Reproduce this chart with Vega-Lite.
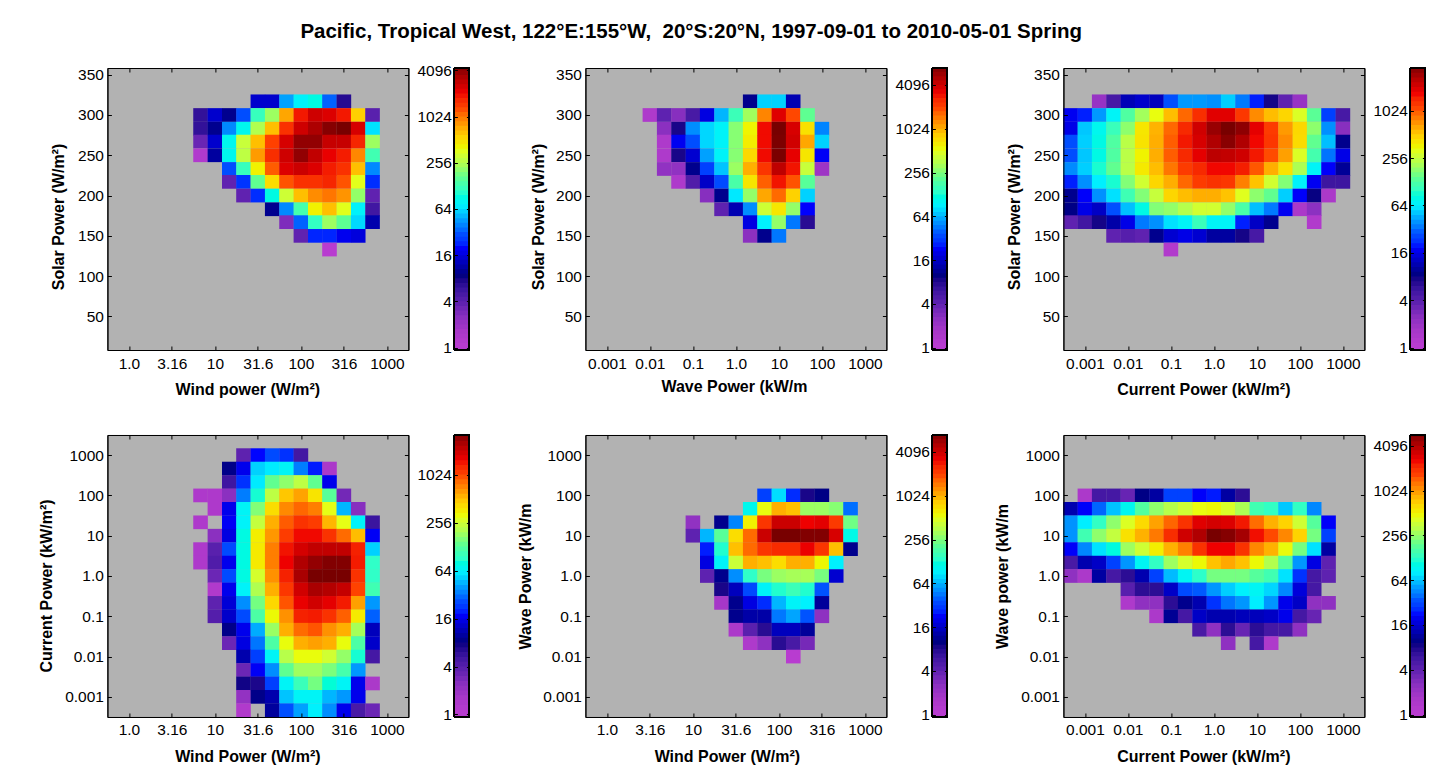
{
"$schema":"https://vega.github.io/schema/vega-lite/v6.json",
"background":"white",
"padding":{"left":37.4,"top":22,"right":5,"bottom":5},
"title":{"text":"Pacific, Tropical West, 122°E:155°W, \u00a020°S:20°N, 1997-09-01 to 2010-05-01 Spring","fontSize":20.5,"fontWeight":"bold","font":"Liberation Sans","anchor":"middle","dx":-40.7,"offset":20.5},
"columns":6,"bounds":"flush","align":"each","spacing":{"row":85,"column":46},
"resolve":{"scale":{"color":"independent"}},
"config":{"font":"Liberation Sans","range":{"heatmap":["#b83cd0","#a838c8","#8a30c0","#5f22b0","#3a159f","#000080","#0000c0","#0000ff","#0050ff","#00a0ff","#00f0ff","#30ffc8","#60ff90","#b0ff50","#e8ff10","#ffd000","#ff8c00","#ff4000","#f00000","#b80000","#780000"]},"axis":{"grid":false,"labelFontSize":15.5,"titleFontSize":16,"titleFontWeight":"bold","labelColor":"black","titleColor":"black","tickColor":"black","domainColor":"black","labelFont":"Liberation Sans","titleFont":"Liberation Sans"}},
"datasets":{
"levels":[{"lo":0.9,"hi":1.32},{"lo":1.149,"hi":1.516},{"lo":1.32,"hi":1.741},{"lo":1.516,"hi":2},{"lo":1.741,"hi":2.297},{"lo":2,"hi":2.639},{"lo":2.297,"hi":3.031},{"lo":2.639,"hi":3.482},{"lo":3.031,"hi":4},{"lo":3.482,"hi":4.595},{"lo":4,"hi":5.278},{"lo":4.595,"hi":6.063},{"lo":5.278,"hi":6.964},{"lo":6.063,"hi":8},{"lo":6.964,"hi":9.19},{"lo":8,"hi":10.56},{"lo":9.19,"hi":12.13},{"lo":10.56,"hi":13.93},{"lo":12.13,"hi":16},{"lo":13.93,"hi":18.38},{"lo":16,"hi":21.11},{"lo":18.38,"hi":24.25},{"lo":21.11,"hi":27.86},{"lo":24.25,"hi":32},{"lo":27.86,"hi":36.76},{"lo":32,"hi":42.22},{"lo":36.76,"hi":48.5},{"lo":42.22,"hi":55.72},{"lo":48.5,"hi":64},{"lo":55.72,"hi":73.5},{"lo":64,"hi":84.4},{"lo":73.5,"hi":97},{"lo":84.4,"hi":111.4},{"lo":97,"hi":128},{"lo":111.4,"hi":147},{"lo":128,"hi":168.9},{"lo":147,"hi":194},{"lo":168.9,"hi":222.9},{"lo":194,"hi":256},{"lo":222.9,"hi":294},{"lo":256,"hi":337.8},{"lo":294,"hi":388},{"lo":337.8,"hi":445.7},{"lo":388,"hi":512},{"lo":445.7,"hi":588},{"lo":512,"hi":675.6},{"lo":588,"hi":776},{"lo":675.6,"hi":891.4},{"lo":776,"hi":1024},{"lo":891.4,"hi":1176},{"lo":1024,"hi":1351},{"lo":1176,"hi":1552},{"lo":1351,"hi":1783},{"lo":1552,"hi":2048},{"lo":1783,"hi":2353},{"lo":2048,"hi":2702},{"lo":2353,"hi":3104},{"lo":2702,"hi":3566},{"lo":3104,"hi":4096},{"lo":3566,"hi":4705},{"lo":4096,"hi":5405},{"lo":4705,"hi":6208},{"lo":5405,"hi":7132},{"lo":6208,"hi":8192},{"lo":7132,"hi":8192}],
"solar_wind":[
{"x":31.6,"y":317,"n":13.5},{"x":46.4,"y":317,"n":13.5},{"x":68.1,"y":317,"n":44},{"x":100,"y":317,"n":70},{"x":147,"y":317,"n":85},{"x":215,"y":317,"n":31},{"x":316,"y":317,"n":6.5},
{"x":6.81,"y":300,"n":5.8},{"x":10,"y":300,"n":13.5},{"x":14.7,"y":300,"n":9},{"x":21.5,"y":300,"n":28},{"x":31.6,"y":300,"n":110},{"x":46.4,"y":300,"n":210},{"x":68.1,"y":300,"n":700},{"x":100,"y":300,"n":1745},{"x":147,"y":300,"n":2440},{"x":215,"y":300,"n":2200},{"x":316,"y":300,"n":1745},{"x":464,"y":300,"n":540},{"x":681,"y":300,"n":3.8},
{"x":6.81,"y":283,"n":5.8},{"x":10,"y":283,"n":9},{"x":14.7,"y":283,"n":38},{"x":21.5,"y":283,"n":78},{"x":31.6,"y":283,"n":234},{"x":46.4,"y":283,"n":600},{"x":68.1,"y":283,"n":1450},{"x":100,"y":283,"n":2440},{"x":147,"y":283,"n":3100},{"x":215,"y":283,"n":4000},{"x":316,"y":283,"n":4390},{"x":464,"y":283,"n":2300},{"x":681,"y":283,"n":61},
{"x":6.81,"y":267,"n":3.2},{"x":10,"y":267,"n":13.5},{"x":14.7,"y":267,"n":78},{"x":21.5,"y":267,"n":280},{"x":31.6,"y":267,"n":600},{"x":46.4,"y":267,"n":1250},{"x":68.1,"y":267,"n":2300},{"x":100,"y":267,"n":3700},{"x":147,"y":267,"n":3700},{"x":215,"y":267,"n":2600},{"x":316,"y":267,"n":2600},{"x":464,"y":267,"n":1600},{"x":681,"y":267,"n":210},
{"x":6.81,"y":250,"n":1.2},{"x":10,"y":250,"n":10},{"x":14.7,"y":250,"n":78},{"x":21.5,"y":250,"n":260},{"x":31.6,"y":250,"n":750},{"x":46.4,"y":250,"n":1500},{"x":68.1,"y":250,"n":2440},{"x":100,"y":250,"n":3700},{"x":147,"y":250,"n":2700},{"x":215,"y":250,"n":2000},{"x":316,"y":250,"n":1700},{"x":464,"y":250,"n":850},{"x":681,"y":250,"n":120},
{"x":14.7,"y":233,"n":28},{"x":21.5,"y":233,"n":110},{"x":31.6,"y":233,"n":400},{"x":46.4,"y":233,"n":1100},{"x":68.1,"y":233,"n":2200},{"x":100,"y":233,"n":2500},{"x":147,"y":233,"n":2200},{"x":215,"y":233,"n":1700},{"x":316,"y":233,"n":1450},{"x":464,"y":233,"n":600},{"x":681,"y":233,"n":38},
{"x":14.7,"y":217,"n":3.5},{"x":21.5,"y":217,"n":23},{"x":31.6,"y":217,"n":153},{"x":46.4,"y":217,"n":480},{"x":68.1,"y":217,"n":1150},{"x":100,"y":217,"n":1450},{"x":147,"y":217,"n":1450},{"x":215,"y":217,"n":1600},{"x":316,"y":217,"n":1150},{"x":464,"y":217,"n":340},{"x":681,"y":217,"n":22},
{"x":21.5,"y":200,"n":3.5},{"x":31.6,"y":200,"n":22},{"x":46.4,"y":200,"n":85},{"x":68.1,"y":200,"n":290},{"x":100,"y":200,"n":600},{"x":147,"y":200,"n":820},{"x":215,"y":200,"n":950},{"x":316,"y":200,"n":780},{"x":464,"y":200,"n":200},{"x":681,"y":200,"n":3.5},
{"x":46.4,"y":183,"n":9},{"x":68.1,"y":183,"n":38},{"x":100,"y":183,"n":125},{"x":147,"y":183,"n":400},{"x":215,"y":183,"n":600},{"x":316,"y":183,"n":340},{"x":464,"y":183,"n":70},{"x":681,"y":183,"n":5},
{"x":68.1,"y":167,"n":2.6},{"x":100,"y":167,"n":31},{"x":147,"y":167,"n":105},{"x":215,"y":167,"n":210},{"x":316,"y":167,"n":150},{"x":464,"y":167,"n":58},{"x":681,"y":167,"n":11},
{"x":100,"y":150,"n":3.5},{"x":147,"y":150,"n":21},{"x":215,"y":150,"n":21},{"x":316,"y":150,"n":17},{"x":464,"y":150,"n":15},
{"x":215,"y":133,"n":1}],
"solar_wave":[
{"x":2.15,"y":317,"n":10},{"x":4.64,"y":317,"n":70},{"x":10,"y":317,"n":70},{"x":21.5,"y":317,"n":13},
{"x":0.01,"y":300,"n":1.3},{"x":0.0215,"y":300,"n":3.8},{"x":0.0464,"y":300,"n":2.5},{"x":0.1,"y":300,"n":5},{"x":0.215,"y":300,"n":18},{"x":0.464,"y":300,"n":60},{"x":1,"y":300,"n":150},{"x":2.15,"y":300,"n":290},{"x":4.64,"y":300,"n":1250},{"x":10,"y":300,"n":3300},{"x":21.5,"y":300,"n":1800},{"x":46.4,"y":300,"n":200},
{"x":0.0215,"y":283,"n":2.4},{"x":0.0464,"y":283,"n":8},{"x":0.1,"y":283,"n":48},{"x":0.215,"y":283,"n":72},{"x":0.464,"y":283,"n":90},{"x":1,"y":283,"n":250},{"x":2.15,"y":283,"n":540},{"x":4.64,"y":283,"n":2800},{"x":10,"y":283,"n":7000},{"x":21.5,"y":283,"n":3500},{"x":46.4,"y":283,"n":650},{"x":100,"y":283,"n":45},
{"x":0.0215,"y":267,"n":1.3},{"x":0.0464,"y":267,"n":20},{"x":0.1,"y":267,"n":34},{"x":0.215,"y":267,"n":72},{"x":0.464,"y":267,"n":90},{"x":1,"y":267,"n":250},{"x":2.15,"y":267,"n":580},{"x":4.64,"y":267,"n":2800},{"x":10,"y":267,"n":6800},{"x":21.5,"y":267,"n":3700},{"x":46.4,"y":267,"n":1000},{"x":100,"y":267,"n":70},
{"x":0.0215,"y":250,"n":1.3},{"x":0.0464,"y":250,"n":8},{"x":0.1,"y":250,"n":16},{"x":0.215,"y":250,"n":54},{"x":0.464,"y":250,"n":90},{"x":1,"y":250,"n":250},{"x":2.15,"y":250,"n":700},{"x":4.64,"y":250,"n":2800},{"x":10,"y":250,"n":6800},{"x":21.5,"y":250,"n":3100},{"x":46.4,"y":250,"n":620},{"x":100,"y":250,"n":21},
{"x":0.0215,"y":233,"n":2.2},{"x":0.0464,"y":233,"n":2.2},{"x":0.1,"y":233,"n":10},{"x":0.215,"y":233,"n":30},{"x":0.464,"y":233,"n":65},{"x":1,"y":233,"n":280},{"x":2.15,"y":233,"n":950},{"x":4.64,"y":233,"n":2100},{"x":10,"y":233,"n":4300},{"x":21.5,"y":233,"n":2700},{"x":46.4,"y":233,"n":380},{"x":100,"y":233,"n":1.8},
{"x":0.0464,"y":217,"n":1.3},{"x":0.1,"y":217,"n":4.5},{"x":0.215,"y":217,"n":15},{"x":0.464,"y":217,"n":33},{"x":1,"y":217,"n":170},{"x":2.15,"y":217,"n":620},{"x":4.64,"y":217,"n":1600},{"x":10,"y":217,"n":2700},{"x":21.5,"y":217,"n":1700},{"x":46.4,"y":217,"n":190},
{"x":0.215,"y":200,"n":2.5},{"x":0.464,"y":200,"n":10},{"x":1,"y":200,"n":80},{"x":2.15,"y":200,"n":270},{"x":4.64,"y":200,"n":1000},{"x":10,"y":200,"n":1500},{"x":21.5,"y":200,"n":750},{"x":46.4,"y":200,"n":70},
{"x":0.464,"y":183,"n":3.8},{"x":1,"y":183,"n":13},{"x":2.15,"y":183,"n":48},{"x":4.64,"y":183,"n":400},{"x":10,"y":183,"n":620},{"x":21.5,"y":183,"n":270},{"x":46.4,"y":183,"n":22},
{"x":2.15,"y":167,"n":18},{"x":4.64,"y":167,"n":85},{"x":10,"y":167,"n":270},{"x":21.5,"y":167,"n":42},{"x":46.4,"y":167,"n":7},
{"x":2.15,"y":150,"n":2.4},{"x":4.64,"y":150,"n":10},{"x":10,"y":150,"n":42}],
"solar_current":[
{"x":0.00215,"y":317,"n":1.9},{"x":0.00464,"y":317,"n":4.5},{"x":0.01,"y":317,"n":11},{"x":0.0215,"y":317,"n":12.6},{"x":0.0464,"y":317,"n":11.5},{"x":0.1,"y":317,"n":26},{"x":0.215,"y":317,"n":38},{"x":0.464,"y":317,"n":38},{"x":1,"y":317,"n":36},{"x":2.15,"y":317,"n":50},{"x":4.64,"y":317,"n":32},{"x":10,"y":317,"n":19},{"x":21.5,"y":317,"n":7},{"x":46.4,"y":317,"n":3.4},{"x":100,"y":317,"n":1.9},
{"x":0.000464,"y":300,"n":16},{"x":0.001,"y":300,"n":19},{"x":0.00215,"y":300,"n":38},{"x":0.00464,"y":300,"n":65},{"x":0.01,"y":300,"n":120},{"x":0.0215,"y":300,"n":190},{"x":0.0464,"y":300,"n":310},{"x":0.1,"y":300,"n":520},{"x":0.215,"y":300,"n":870},{"x":0.464,"y":300,"n":1250},{"x":1,"y":300,"n":1750},{"x":2.15,"y":300,"n":1750},{"x":4.64,"y":300,"n":1150},{"x":10,"y":300,"n":700},{"x":21.5,"y":300,"n":520},{"x":46.4,"y":300,"n":440},{"x":100,"y":300,"n":280},{"x":215,"y":300,"n":130},{"x":464,"y":300,"n":23},{"x":1000,"y":300,"n":4.5},
{"x":0.000464,"y":283,"n":15},{"x":0.001,"y":283,"n":48},{"x":0.00215,"y":283,"n":70},{"x":0.00464,"y":283,"n":100},{"x":0.01,"y":283,"n":170},{"x":0.0215,"y":283,"n":380},{"x":0.0464,"y":283,"n":550},{"x":0.1,"y":283,"n":870},{"x":0.215,"y":283,"n":1300},{"x":0.464,"y":283,"n":2000},{"x":1,"y":283,"n":2900},{"x":2.15,"y":283,"n":3570},{"x":4.64,"y":283,"n":3100},{"x":10,"y":283,"n":1700},{"x":21.5,"y":283,"n":1100},{"x":46.4,"y":283,"n":640},{"x":100,"y":283,"n":430},{"x":215,"y":283,"n":170},{"x":464,"y":283,"n":36},{"x":1000,"y":283,"n":2.3},
{"x":0.000464,"y":267,"n":26},{"x":0.001,"y":267,"n":50},{"x":0.00215,"y":267,"n":75},{"x":0.00464,"y":267,"n":120},{"x":0.01,"y":267,"n":220},{"x":0.0215,"y":267,"n":390},{"x":0.0464,"y":267,"n":570},{"x":0.1,"y":267,"n":920},{"x":0.215,"y":267,"n":1450},{"x":0.464,"y":267,"n":1900},{"x":1,"y":267,"n":2500},{"x":2.15,"y":267,"n":3200},{"x":4.64,"y":267,"n":2500},{"x":10,"y":267,"n":1550},{"x":21.5,"y":267,"n":1150},{"x":46.4,"y":267,"n":700},{"x":100,"y":267,"n":420},{"x":215,"y":267,"n":135},{"x":464,"y":267,"n":46},{"x":1000,"y":267,"n":8.4},
{"x":0.000464,"y":250,"n":26},{"x":0.001,"y":250,"n":48},{"x":0.00215,"y":250,"n":75},{"x":0.00464,"y":250,"n":120},{"x":0.01,"y":250,"n":220},{"x":0.0215,"y":250,"n":340},{"x":0.0464,"y":250,"n":570},{"x":0.1,"y":250,"n":920},{"x":0.215,"y":250,"n":1300},{"x":0.464,"y":250,"n":1700},{"x":1,"y":250,"n":2300},{"x":2.15,"y":250,"n":2200},{"x":4.64,"y":250,"n":2000},{"x":10,"y":250,"n":1450},{"x":21.5,"y":250,"n":1000},{"x":46.4,"y":250,"n":620},{"x":100,"y":250,"n":280},{"x":215,"y":250,"n":110},{"x":464,"y":250,"n":31},{"x":1000,"y":250,"n":15},
{"x":0.000464,"y":233,"n":35},{"x":0.001,"y":233,"n":50},{"x":0.00215,"y":233,"n":85},{"x":0.00464,"y":233,"n":135},{"x":0.01,"y":233,"n":220},{"x":0.0215,"y":233,"n":370},{"x":0.0464,"y":233,"n":520},{"x":0.1,"y":233,"n":800},{"x":0.215,"y":233,"n":1100},{"x":0.464,"y":233,"n":1300},{"x":1,"y":233,"n":1550},{"x":2.15,"y":233,"n":1550},{"x":4.64,"y":233,"n":1400},{"x":10,"y":233,"n":950},{"x":21.5,"y":233,"n":570},{"x":46.4,"y":233,"n":390},{"x":100,"y":233,"n":200},{"x":215,"y":233,"n":65},{"x":464,"y":233,"n":17},{"x":1000,"y":233,"n":9},
{"x":0.000464,"y":217,"n":19},{"x":0.001,"y":217,"n":36},{"x":0.00215,"y":217,"n":60},{"x":0.00464,"y":217,"n":85},{"x":0.01,"y":217,"n":160},{"x":0.0215,"y":217,"n":260},{"x":0.0464,"y":217,"n":440},{"x":0.1,"y":217,"n":570},{"x":0.215,"y":217,"n":870},{"x":0.464,"y":217,"n":1100},{"x":1,"y":217,"n":1200},{"x":2.15,"y":217,"n":1150},{"x":4.64,"y":217,"n":750},{"x":10,"y":217,"n":500},{"x":21.5,"y":217,"n":260},{"x":46.4,"y":217,"n":160},{"x":100,"y":217,"n":62},{"x":215,"y":217,"n":16},{"x":464,"y":217,"n":5},{"x":1000,"y":217,"n":5},
{"x":0.000464,"y":200,"n":8.5},{"x":0.001,"y":200,"n":17},{"x":0.00215,"y":200,"n":36},{"x":0.00464,"y":200,"n":55},{"x":0.01,"y":200,"n":105},{"x":0.0215,"y":200,"n":160},{"x":0.0464,"y":200,"n":240},{"x":0.1,"y":200,"n":440},{"x":0.215,"y":200,"n":520},{"x":0.464,"y":200,"n":570},{"x":1,"y":200,"n":570},{"x":2.15,"y":200,"n":500},{"x":4.64,"y":200,"n":290},{"x":10,"y":200,"n":170},{"x":21.5,"y":200,"n":135},{"x":46.4,"y":200,"n":50},{"x":100,"y":200,"n":17},{"x":215,"y":200,"n":7.5},{"x":464,"y":200,"n":1.4},
{"x":0.000464,"y":183,"n":8},{"x":0.001,"y":183,"n":15},{"x":0.00215,"y":183,"n":12},{"x":0.00464,"y":183,"n":26},{"x":0.01,"y":183,"n":46},{"x":0.0215,"y":183,"n":75},{"x":0.0464,"y":183,"n":160},{"x":0.1,"y":183,"n":175},{"x":0.215,"y":183,"n":210},{"x":0.464,"y":183,"n":260},{"x":1,"y":183,"n":260},{"x":2.15,"y":183,"n":175},{"x":4.64,"y":183,"n":115},{"x":10,"y":183,"n":46},{"x":21.5,"y":183,"n":32},{"x":46.4,"y":183,"n":16},{"x":100,"y":183,"n":1.4},{"x":215,"y":183,"n":2.2},
{"x":0.000464,"y":167,"n":3.4},{"x":0.001,"y":167,"n":4.8},{"x":0.00215,"y":167,"n":7},{"x":0.00464,"y":167,"n":10},{"x":0.01,"y":167,"n":15},{"x":0.0215,"y":167,"n":32},{"x":0.0464,"y":167,"n":36},{"x":0.1,"y":167,"n":55},{"x":0.215,"y":167,"n":65},{"x":0.464,"y":167,"n":100},{"x":1,"y":167,"n":65},{"x":2.15,"y":167,"n":65},{"x":4.64,"y":167,"n":19},{"x":10,"y":167,"n":12},{"x":21.5,"y":167,"n":8.5},{"x":215,"y":167,"n":1.2},
{"x":0.00464,"y":150,"n":3.4},{"x":0.01,"y":150,"n":3.8},{"x":0.0215,"y":150,"n":3.4},{"x":0.0464,"y":150,"n":8.5},{"x":0.1,"y":150,"n":13},{"x":0.215,"y":150,"n":15},{"x":0.464,"y":150,"n":13},{"x":1,"y":150,"n":9.5},{"x":2.15,"y":150,"n":9.5},{"x":4.64,"y":150,"n":7},{"x":10,"y":150,"n":4.5},
{"x":0.1,"y":133,"n":1.2}],
"current_wind":[
{"x":21.5,"y":1000,"n":3.4},{"x":31.6,"y":1000,"n":17},{"x":46.4,"y":1000,"n":24},{"x":68.1,"y":1000,"n":20},{"x":100,"y":1000,"n":4.6},
{"x":14.7,"y":464,"n":8},{"x":21.5,"y":464,"n":15},{"x":31.6,"y":464,"n":48},{"x":46.4,"y":464,"n":55},{"x":68.1,"y":464,"n":62},{"x":100,"y":464,"n":31},{"x":147,"y":464,"n":18},{"x":215,"y":464,"n":1.4},
{"x":14.7,"y":215,"n":4.8},{"x":21.5,"y":215,"n":20},{"x":31.6,"y":215,"n":55},{"x":46.4,"y":215,"n":127},{"x":68.1,"y":215,"n":160},{"x":100,"y":215,"n":210},{"x":147,"y":215,"n":127},{"x":215,"y":215,"n":15},
{"x":6.81,"y":100,"n":1.3},{"x":10,"y":100,"n":1.3},{"x":14.7,"y":100,"n":2.2},{"x":21.5,"y":100,"n":31},{"x":31.6,"y":100,"n":80},{"x":46.4,"y":100,"n":210},{"x":68.1,"y":100,"n":450},{"x":100,"y":100,"n":560},{"x":147,"y":100,"n":360},{"x":215,"y":100,"n":120},{"x":316,"y":100,"n":2.8},
{"x":10,"y":46.4,"n":1.3},{"x":14.7,"y":46.4,"n":15},{"x":21.5,"y":46.4,"n":62},{"x":31.6,"y":46.4,"n":150},{"x":46.4,"y":46.4,"n":380},{"x":68.1,"y":46.4,"n":650},{"x":100,"y":46.4,"n":800},{"x":147,"y":46.4,"n":700},{"x":215,"y":46.4,"n":280},{"x":316,"y":46.4,"n":42},{"x":464,"y":46.4,"n":2.3},
{"x":6.81,"y":21.5,"n":1.3},{"x":14.7,"y":21.5,"n":16},{"x":21.5,"y":21.5,"n":60},{"x":31.6,"y":21.5,"n":220},{"x":46.4,"y":21.5,"n":520},{"x":68.1,"y":21.5,"n":850},{"x":100,"y":21.5,"n":1100},{"x":147,"y":21.5,"n":1000},{"x":215,"y":21.5,"n":500},{"x":316,"y":21.5,"n":280},{"x":464,"y":21.5,"n":60},{"x":681,"y":21.5,"n":5},
{"x":10,"y":10,"n":2.2},{"x":14.7,"y":10,"n":14},{"x":21.5,"y":10,"n":72},{"x":31.6,"y":10,"n":330},{"x":46.4,"y":10,"n":600},{"x":68.1,"y":10,"n":1000},{"x":100,"y":10,"n":1400},{"x":147,"y":10,"n":1400},{"x":215,"y":10,"n":1100},{"x":316,"y":10,"n":780},{"x":464,"y":10,"n":480},{"x":681,"y":10,"n":16},
{"x":6.81,"y":4.64,"n":1.3},{"x":10,"y":4.64,"n":3.6},{"x":14.7,"y":4.64,"n":24},{"x":21.5,"y":4.64,"n":72},{"x":31.6,"y":4.64,"n":340},{"x":46.4,"y":4.64,"n":700},{"x":68.1,"y":4.64,"n":1350},{"x":100,"y":4.64,"n":1750},{"x":147,"y":4.64,"n":2000},{"x":215,"y":4.64,"n":2000},{"x":316,"y":4.64,"n":2000},{"x":464,"y":4.64,"n":1250},{"x":681,"y":4.64,"n":48},
{"x":6.81,"y":2.15,"n":1.3},{"x":10,"y":2.15,"n":4},{"x":14.7,"y":2.15,"n":15},{"x":21.5,"y":2.15,"n":72},{"x":31.6,"y":2.15,"n":340},{"x":46.4,"y":2.15,"n":700},{"x":68.1,"y":2.15,"n":1450},{"x":100,"y":2.15,"n":2250},{"x":147,"y":2.15,"n":2700},{"x":215,"y":2.15,"n":3000},{"x":316,"y":2.15,"n":3000},{"x":464,"y":2.15,"n":1300},{"x":681,"y":2.15,"n":85},
{"x":10,"y":1,"n":3},{"x":14.7,"y":1,"n":24},{"x":21.5,"y":1,"n":72},{"x":31.6,"y":1,"n":250},{"x":46.4,"y":1,"n":620},{"x":68.1,"y":1,"n":1250},{"x":100,"y":1,"n":2350},{"x":147,"y":1,"n":3210},{"x":215,"y":1,"n":3210},{"x":316,"y":1,"n":3210},{"x":464,"y":1,"n":1100},{"x":681,"y":1,"n":85},
{"x":10,"y":0.464,"n":1.2},{"x":14.7,"y":0.464,"n":15},{"x":21.5,"y":0.464,"n":60},{"x":31.6,"y":0.464,"n":190},{"x":46.4,"y":0.464,"n":520},{"x":68.1,"y":0.464,"n":1050},{"x":100,"y":0.464,"n":1800},{"x":147,"y":0.464,"n":2350},{"x":215,"y":0.464,"n":2200},{"x":316,"y":0.464,"n":1950},{"x":464,"y":0.464,"n":950},{"x":681,"y":0.464,"n":100},
{"x":10,"y":0.215,"n":3.4},{"x":14.7,"y":0.215,"n":13},{"x":21.5,"y":0.215,"n":34},{"x":31.6,"y":0.215,"n":140},{"x":46.4,"y":0.215,"n":400},{"x":68.1,"y":0.215,"n":880},{"x":100,"y":0.215,"n":1500},{"x":147,"y":0.215,"n":1800},{"x":215,"y":0.215,"n":1550},{"x":316,"y":0.215,"n":1300},{"x":464,"y":0.215,"n":570},{"x":681,"y":0.215,"n":36},
{"x":10,"y":0.1,"n":3.8},{"x":14.7,"y":0.1,"n":12},{"x":21.5,"y":0.1,"n":24},{"x":31.6,"y":0.1,"n":110},{"x":46.4,"y":0.1,"n":300},{"x":68.1,"y":0.1,"n":620},{"x":100,"y":0.1,"n":1250},{"x":147,"y":0.1,"n":1300},{"x":215,"y":0.1,"n":1100},{"x":316,"y":0.1,"n":830},{"x":464,"y":0.1,"n":340},{"x":681,"y":0.1,"n":27},
{"x":14.7,"y":0.0464,"n":8},{"x":21.5,"y":0.0464,"n":15},{"x":31.6,"y":0.0464,"n":40},{"x":46.4,"y":0.0464,"n":170},{"x":68.1,"y":0.0464,"n":520},{"x":100,"y":0.0464,"n":780},{"x":147,"y":0.0464,"n":880},{"x":215,"y":0.0464,"n":620},{"x":316,"y":0.0464,"n":520},{"x":464,"y":0.0464,"n":180},{"x":681,"y":0.0464,"n":11},
{"x":14.7,"y":0.0215,"n":3},{"x":21.5,"y":0.0215,"n":14},{"x":31.6,"y":0.0215,"n":30},{"x":46.4,"y":0.0215,"n":110},{"x":68.1,"y":0.0215,"n":290},{"x":100,"y":0.0215,"n":520},{"x":147,"y":0.0215,"n":570},{"x":215,"y":0.0215,"n":520},{"x":316,"y":0.0215,"n":290},{"x":464,"y":0.0215,"n":110},{"x":681,"y":0.0215,"n":12},
{"x":21.5,"y":0.01,"n":10},{"x":31.6,"y":0.01,"n":22},{"x":46.4,"y":0.01,"n":62},{"x":68.1,"y":0.01,"n":200},{"x":100,"y":0.01,"n":290},{"x":147,"y":0.01,"n":290},{"x":215,"y":0.01,"n":240},{"x":316,"y":0.01,"n":165},{"x":464,"y":0.01,"n":80},{"x":681,"y":0.01,"n":4.5},
{"x":21.5,"y":0.00464,"n":3},{"x":31.6,"y":0.00464,"n":16},{"x":46.4,"y":0.00464,"n":34},{"x":68.1,"y":0.00464,"n":125},{"x":100,"y":0.00464,"n":175},{"x":147,"y":0.00464,"n":175},{"x":215,"y":0.00464,"n":145},{"x":316,"y":0.00464,"n":105},{"x":464,"y":0.00464,"n":36},
{"x":21.5,"y":0.00215,"n":7},{"x":31.6,"y":0.00215,"n":6.5},{"x":46.4,"y":0.00215,"n":22},{"x":68.1,"y":0.00215,"n":62},{"x":100,"y":0.00215,"n":95},{"x":147,"y":0.00215,"n":140},{"x":215,"y":0.00215,"n":78},{"x":316,"y":0.00215,"n":62},{"x":464,"y":0.00215,"n":15},{"x":681,"y":0.00215,"n":1.4},
{"x":21.5,"y":0.001,"n":2},{"x":31.6,"y":0.001,"n":8},{"x":46.4,"y":0.001,"n":10},{"x":68.1,"y":0.001,"n":45},{"x":100,"y":0.001,"n":62},{"x":147,"y":0.001,"n":62},{"x":215,"y":0.001,"n":42},{"x":316,"y":0.001,"n":36},{"x":464,"y":0.001,"n":15},
{"x":21.5,"y":0.000464,"n":1.2},{"x":46.4,"y":0.000464,"n":9},{"x":68.1,"y":0.000464,"n":25},{"x":100,"y":0.000464,"n":38},{"x":147,"y":0.000464,"n":58},{"x":215,"y":0.000464,"n":34},{"x":316,"y":0.000464,"n":15},{"x":464,"y":0.000464,"n":4.3},{"x":681,"y":0.000464,"n":3}],
"wave_wind":[
{"x":68.1,"y":100,"n":30},{"x":100,"y":100,"n":75},{"x":147,"y":100,"n":26},{"x":215,"y":100,"n":8},{"x":316,"y":100,"n":9.5},
{"x":46.4,"y":46.4,"n":100},{"x":68.1,"y":46.4,"n":500},{"x":100,"y":46.4,"n":950},{"x":147,"y":46.4,"n":850},{"x":215,"y":46.4,"n":280},{"x":316,"y":46.4,"n":280},{"x":464,"y":46.4,"n":250},{"x":681,"y":46.4,"n":40},
{"x":10,"y":21.5,"n":2.2},{"x":21.5,"y":21.5,"n":10},{"x":31.6,"y":21.5,"n":45},{"x":46.4,"y":21.5,"n":560},{"x":68.1,"y":21.5,"n":2100},{"x":100,"y":21.5,"n":3900},{"x":147,"y":21.5,"n":3900},{"x":215,"y":21.5,"n":2900},{"x":316,"y":21.5,"n":3200},{"x":464,"y":21.5,"n":2000},{"x":681,"y":21.5,"n":220},
{"x":10,"y":10,"n":3.8},{"x":14.7,"y":10,"n":60},{"x":21.5,"y":10,"n":190},{"x":31.6,"y":10,"n":680},{"x":46.4,"y":10,"n":1500},{"x":68.1,"y":10,"n":3900},{"x":100,"y":10,"n":7000},{"x":147,"y":10,"n":7000},{"x":215,"y":10,"n":6500},{"x":316,"y":10,"n":6500},{"x":464,"y":10,"n":3500},{"x":681,"y":10,"n":105},
{"x":14.7,"y":4.64,"n":24},{"x":21.5,"y":4.64,"n":125},{"x":31.6,"y":4.64,"n":850},{"x":46.4,"y":4.64,"n":1500},{"x":68.1,"y":4.64,"n":2100},{"x":100,"y":4.64,"n":2300},{"x":147,"y":4.64,"n":2300},{"x":215,"y":4.64,"n":3000},{"x":316,"y":4.64,"n":2100},{"x":464,"y":4.64,"n":850},{"x":681,"y":4.64,"n":10},
{"x":14.7,"y":2.15,"n":18},{"x":21.5,"y":2.15,"n":90},{"x":31.6,"y":2.15,"n":390},{"x":46.4,"y":2.15,"n":950},{"x":68.1,"y":2.15,"n":850},{"x":100,"y":2.15,"n":680},{"x":147,"y":2.15,"n":950},{"x":215,"y":2.15,"n":950},{"x":316,"y":2.15,"n":530},{"x":464,"y":2.15,"n":85},
{"x":14.7,"y":1,"n":3.8},{"x":21.5,"y":1,"n":10},{"x":31.6,"y":1,"n":48},{"x":46.4,"y":1,"n":130},{"x":68.1,"y":1,"n":230},{"x":100,"y":1,"n":280},{"x":147,"y":1,"n":300},{"x":215,"y":1,"n":300},{"x":316,"y":1,"n":230},{"x":464,"y":1,"n":16},
{"x":21.5,"y":0.464,"n":8},{"x":31.6,"y":0.464,"n":14},{"x":46.4,"y":0.464,"n":32},{"x":68.1,"y":0.464,"n":90},{"x":100,"y":0.464,"n":125},{"x":147,"y":0.464,"n":150},{"x":215,"y":0.464,"n":125},{"x":316,"y":0.464,"n":35},
{"x":21.5,"y":0.215,"n":1.6},{"x":31.6,"y":0.215,"n":10},{"x":46.4,"y":0.215,"n":18},{"x":68.1,"y":0.215,"n":26},{"x":100,"y":0.215,"n":60},{"x":147,"y":0.215,"n":90},{"x":215,"y":0.215,"n":85},{"x":316,"y":0.215,"n":11},
{"x":31.6,"y":0.1,"n":10},{"x":46.4,"y":0.1,"n":12},{"x":68.1,"y":0.1,"n":12},{"x":100,"y":0.1,"n":42},{"x":147,"y":0.1,"n":55},{"x":215,"y":0.1,"n":35},{"x":316,"y":0.1,"n":2.3},
{"x":31.6,"y":0.0464,"n":1.4},{"x":46.4,"y":0.0464,"n":4},{"x":68.1,"y":0.0464,"n":7},{"x":100,"y":0.0464,"n":14},{"x":147,"y":0.0464,"n":14},{"x":215,"y":0.0464,"n":11},
{"x":46.4,"y":0.0215,"n":1.3},{"x":68.1,"y":0.0215,"n":2.3},{"x":100,"y":0.0215,"n":7},{"x":147,"y":0.0215,"n":5},{"x":215,"y":0.0215,"n":3},
{"x":147,"y":0.01,"n":1}],
"wave_current":[
{"x":0.001,"y":100,"n":1.4},{"x":0.00215,"y":100,"n":5},{"x":0.00464,"y":100,"n":5},{"x":0.01,"y":100,"n":3.4},{"x":0.0215,"y":100,"n":9},{"x":0.0464,"y":100,"n":11},{"x":0.1,"y":100,"n":28},{"x":0.215,"y":100,"n":28},{"x":0.464,"y":100,"n":20},{"x":1,"y":100,"n":22},{"x":2.15,"y":100,"n":11},{"x":4.64,"y":100,"n":6.5},
{"x":0.000464,"y":46.4,"n":12},{"x":0.001,"y":46.4,"n":20},{"x":0.00215,"y":46.4,"n":35},{"x":0.00464,"y":46.4,"n":58},{"x":0.01,"y":46.4,"n":88},{"x":0.0215,"y":46.4,"n":160},{"x":0.0464,"y":46.4,"n":230},{"x":0.1,"y":46.4,"n":290},{"x":0.215,"y":46.4,"n":350},{"x":0.464,"y":46.4,"n":430},{"x":1,"y":46.4,"n":450},{"x":2.15,"y":46.4,"n":380},{"x":4.64,"y":46.4,"n":270},{"x":10,"y":46.4,"n":140},{"x":21.5,"y":46.4,"n":120},{"x":46.4,"y":46.4,"n":60},{"x":100,"y":46.4,"n":120},{"x":215,"y":46.4,"n":42},
{"x":0.000464,"y":21.5,"n":45},{"x":0.001,"y":21.5,"n":75},{"x":0.00215,"y":21.5,"n":120},{"x":0.00464,"y":21.5,"n":230},{"x":0.01,"y":21.5,"n":390},{"x":0.0215,"y":21.5,"n":600},{"x":0.0464,"y":21.5,"n":880},{"x":0.1,"y":21.5,"n":1300},{"x":0.215,"y":21.5,"n":1800},{"x":0.464,"y":21.5,"n":2700},{"x":1,"y":21.5,"n":3000},{"x":2.15,"y":21.5,"n":2800},{"x":4.64,"y":21.5,"n":2200},{"x":10,"y":21.5,"n":1250},{"x":21.5,"y":21.5,"n":800},{"x":46.4,"y":21.5,"n":640},{"x":100,"y":21.5,"n":350},{"x":215,"y":21.5,"n":165},{"x":464,"y":21.5,"n":20},
{"x":0.000464,"y":10,"n":45},{"x":0.001,"y":10,"n":140},{"x":0.00215,"y":10,"n":230},{"x":0.00464,"y":10,"n":320},{"x":0.01,"y":10,"n":560},{"x":0.0215,"y":10,"n":800},{"x":0.0464,"y":10,"n":1150},{"x":0.1,"y":10,"n":1900},{"x":0.215,"y":10,"n":3100},{"x":0.464,"y":10,"n":3900},{"x":1,"y":10,"n":5700},{"x":2.15,"y":10,"n":5200},{"x":4.64,"y":10,"n":4200},{"x":10,"y":10,"n":2300},{"x":21.5,"y":10,"n":1500},{"x":46.4,"y":10,"n":1050},{"x":100,"y":10,"n":640},{"x":215,"y":10,"n":200},{"x":464,"y":10,"n":28},
{"x":0.000464,"y":4.64,"n":20},{"x":0.001,"y":4.64,"n":42},{"x":0.00215,"y":4.64,"n":70},{"x":0.00464,"y":4.64,"n":100},{"x":0.01,"y":4.64,"n":250},{"x":0.0215,"y":4.64,"n":350},{"x":0.0464,"y":4.64,"n":500},{"x":0.1,"y":4.64,"n":800},{"x":0.215,"y":4.64,"n":1100},{"x":0.464,"y":4.64,"n":1800},{"x":1,"y":4.64,"n":2400},{"x":2.15,"y":4.64,"n":2400},{"x":4.64,"y":4.64,"n":1800},{"x":10,"y":4.64,"n":1050},{"x":21.5,"y":4.64,"n":800},{"x":46.4,"y":4.64,"n":440},{"x":100,"y":4.64,"n":200},{"x":215,"y":4.64,"n":70},{"x":464,"y":4.64,"n":11},
{"x":0.000464,"y":2.15,"n":4.8},{"x":0.001,"y":2.15,"n":12},{"x":0.00215,"y":2.15,"n":14},{"x":0.00464,"y":2.15,"n":28},{"x":0.01,"y":2.15,"n":46},{"x":0.0215,"y":2.15,"n":85},{"x":0.0464,"y":2.15,"n":120},{"x":0.1,"y":2.15,"n":250},{"x":0.215,"y":2.15,"n":370},{"x":0.464,"y":2.15,"n":450},{"x":1,"y":2.15,"n":720},{"x":2.15,"y":2.15,"n":850},{"x":4.64,"y":2.15,"n":720},{"x":10,"y":2.15,"n":450},{"x":21.5,"y":2.15,"n":280},{"x":46.4,"y":2.15,"n":165},{"x":100,"y":2.15,"n":46},{"x":215,"y":2.15,"n":17},{"x":464,"y":2.15,"n":3.7},
{"x":0.000464,"y":1,"n":2.2},{"x":0.001,"y":1,"n":1.4},{"x":0.00215,"y":1,"n":11},{"x":0.00464,"y":1,"n":5},{"x":0.01,"y":1,"n":6.5},{"x":0.0215,"y":1,"n":12},{"x":0.0464,"y":1,"n":28},{"x":0.1,"y":1,"n":56},{"x":0.215,"y":1,"n":85},{"x":0.464,"y":1,"n":115},{"x":1,"y":1,"n":200},{"x":2.15,"y":1,"n":200},{"x":4.64,"y":1,"n":200},{"x":10,"y":1,"n":165},{"x":21.5,"y":1,"n":140},{"x":46.4,"y":1,"n":70},{"x":100,"y":1,"n":25},{"x":215,"y":1,"n":5},{"x":464,"y":1,"n":3.7},
{"x":0.01,"y":0.464,"n":4},{"x":0.0215,"y":0.464,"n":6.5},{"x":0.0464,"y":0.464,"n":6.5},{"x":0.1,"y":0.464,"n":14},{"x":0.215,"y":0.464,"n":30},{"x":0.464,"y":0.464,"n":33},{"x":1,"y":0.464,"n":46},{"x":2.15,"y":0.464,"n":62},{"x":4.64,"y":0.464,"n":78},{"x":10,"y":0.464,"n":85},{"x":21.5,"y":0.464,"n":65},{"x":46.4,"y":0.464,"n":42},{"x":100,"y":0.464,"n":16},{"x":215,"y":0.464,"n":5},
{"x":0.01,"y":0.215,"n":1.3},{"x":0.0215,"y":0.215,"n":2.2},{"x":0.0464,"y":0.215,"n":2.2},{"x":0.1,"y":0.215,"n":6.5},{"x":0.215,"y":0.215,"n":9.5},{"x":0.464,"y":0.215,"n":12},{"x":1,"y":0.215,"n":25},{"x":2.15,"y":0.215,"n":38},{"x":4.64,"y":0.215,"n":46},{"x":10,"y":0.215,"n":75},{"x":21.5,"y":0.215,"n":46},{"x":46.4,"y":0.215,"n":18},{"x":100,"y":0.215,"n":14},{"x":215,"y":0.215,"n":2.2},{"x":464,"y":0.215,"n":2.2},
{"x":0.0464,"y":0.1,"n":1.4},{"x":0.1,"y":0.1,"n":10},{"x":0.215,"y":0.1,"n":5},{"x":0.464,"y":0.1,"n":14},{"x":1,"y":0.1,"n":12},{"x":2.15,"y":0.1,"n":12},{"x":4.64,"y":0.1,"n":13},{"x":10,"y":0.1,"n":13},{"x":21.5,"y":0.1,"n":14},{"x":46.4,"y":0.1,"n":18},{"x":100,"y":0.1,"n":5},{"x":215,"y":0.1,"n":3.4},
{"x":0.464,"y":0.0464,"n":4.8},{"x":1,"y":0.0464,"n":2.2},{"x":2.15,"y":0.0464,"n":6.5},{"x":4.64,"y":0.0464,"n":3.4},{"x":10,"y":0.0464,"n":6.5},{"x":21.5,"y":0.0464,"n":5},{"x":46.4,"y":0.0464,"n":5},{"x":100,"y":0.0464,"n":2.2},
{"x":2.15,"y":0.0215,"n":2.2},{"x":10,"y":0.0215,"n":5},{"x":21.5,"y":0.0215,"n":1.3}]
},
"concat":[
{"width":301,"height":282,"view":{"fill":"#b2b2b2","stroke":"black"},"data":{"name":"solar_wind"},"resolve":{"axis":{"x":"independent","y":"independent"}},"layer":[
{"mark":{"type":"rect","width":14.6,"height":13.7},"encoding":{
"x":{"field":"x","type":"quantitative","scale":{"type":"log","domain":[0.5623,1778],"nice":false},"axis":{"title":"Wind power (W/m²)","titleX":140,"titlePadding":10,"values":[1,3.16,10,31.6,100,316,1000],"labelExpr":"datum.value==1?'1.0':''+datum.value","tickSize":-4,"labelPadding":10,"zindex":1}},
"y":{"field":"y","type":"quantitative","scale":{"domain":[8.33,358.33],"nice":false,"zero":false},"axis":{"title":"Solar Power (W/m²)","titleX":-41,"titleY":148.5,"values":[50,100,150,200,250,300,350],"tickSize":-4,"labelPadding":8,"zindex":1}},
"color":{"field":"n","type":"quantitative","legend":null,"scale":{"type":"log","base":2,"domain":[1,4390],"clamp":true}}}},
{"mark":{"type":"rect","opacity":0,"width":1,"height":1},"encoding":{
"x":{"field":"x","type":"quantitative","axis":{"orient":"top","title":null,"labels":false,"values":[1,3.16,10,31.6,100,316,1000],"tickSize":-4,"zindex":1}},
"y":{"field":"y","type":"quantitative","axis":{"orient":"right","title":null,"labels":false,"values":[50,100,150,200,250,300,350],"tickSize":-4,"zindex":1}}}}
]},
{"width":84.5,"height":282,"view":{"stroke":null},"data":{"name":"levels"},"resolve":{"axis":{"y":"independent"}},"layer":[
{"mark":{"type":"rect","clip":true},"encoding":{
"x":{"datum":0,"type":"quantitative","scale":{"domain":[0,5.633],"nice":false},"axis":null},"x2":{"datum":1},
"y":{"field":"lo","type":"quantitative","scale":{"type":"log","base":2,"domain":[0.93,4390],"nice":false},"axis":{"title":null,"values":[1,4,16,64,256,1024,4096],"format":"d","tickSize":-3,"labelPadding":6,"domain":false,"zindex":1}},"y2":{"field":"hi"},
"color":{"field":"lo","type":"quantitative","legend":null,"scale":{"type":"log","base":2,"domain":[1,4390],"clamp":true}}}},
{"mark":{"type":"rect","fill":null,"stroke":"black","strokeWidth":1},"encoding":{
"x":{"datum":0,"type":"quantitative"},"x2":{"datum":1},
"y":{"datum":0.93,"type":"quantitative","axis":{"orient":"right","offset":-69.5,"title":null,"labels":false,"domain":false,"values":[1,4,16,64,256,1024,4096],"tickSize":-3,"zindex":1}},"y2":{"datum":4390}}}
]},
{"width":301,"height":282,"view":{"fill":"#b2b2b2","stroke":"black"},"data":{"name":"solar_wave"},"resolve":{"axis":{"x":"independent","y":"independent"}},"layer":[
{"mark":{"type":"rect","width":14.6,"height":13.7},"encoding":{
"x":{"field":"x","type":"quantitative","scale":{"type":"log","domain":[0.000316,3162],"nice":false},"axis":{"title":"Wave Power (kW/m","titleX":148.5,"titlePadding":7,"values":[0.001,0.01,0.1,1,10,100,1000],"labelExpr":"datum.value==1?'1.0':''+datum.value","tickSize":-4,"labelPadding":10,"zindex":1}},
"y":{"field":"y","type":"quantitative","scale":{"domain":[8.33,358.33],"nice":false,"zero":false},"axis":{"title":"Solar Power (W/m²)","titleX":-39,"titleY":148.5,"values":[50,100,150,200,250,300,350],"tickSize":-4,"labelPadding":8,"zindex":1}},
"color":{"field":"n","type":"quantitative","legend":null,"scale":{"type":"log","base":2,"domain":[1,7000],"clamp":true}}}},
{"mark":{"type":"rect","opacity":0,"width":1,"height":1},"encoding":{
"x":{"field":"x","type":"quantitative","axis":{"orient":"top","title":null,"labels":false,"values":[0.001,0.01,0.1,1,10,100,1000],"tickSize":-4,"zindex":1}},
"y":{"field":"y","type":"quantitative","axis":{"orient":"right","title":null,"labels":false,"values":[50,100,150,200,250,300,350],"tickSize":-4,"zindex":1}}}}
]},
{"width":84.5,"height":282,"view":{"stroke":null},"data":{"name":"levels"},"resolve":{"axis":{"y":"independent"}},"layer":[
{"mark":{"type":"rect","clip":true},"encoding":{
"x":{"datum":0,"type":"quantitative","scale":{"domain":[0,5.633],"nice":false},"axis":null},"x2":{"datum":1},
"y":{"field":"lo","type":"quantitative","scale":{"type":"log","base":2,"domain":[0.93,7000],"nice":false},"axis":{"title":null,"values":[1,4,16,64,256,1024,4096],"format":"d","tickSize":-3,"labelPadding":6,"domain":false,"zindex":1}},"y2":{"field":"hi"},
"color":{"field":"lo","type":"quantitative","legend":null,"scale":{"type":"log","base":2,"domain":[1,7000],"clamp":true}}}},
{"mark":{"type":"rect","fill":null,"stroke":"black","strokeWidth":1},"encoding":{
"x":{"datum":0,"type":"quantitative"},"x2":{"datum":1},
"y":{"datum":0.93,"type":"quantitative","axis":{"orient":"right","offset":-69.5,"title":null,"labels":false,"domain":false,"values":[1,4,16,64,256,1024,4096],"tickSize":-3,"zindex":1}},"y2":{"datum":7000}}}
]},
{"width":301,"height":282,"view":{"fill":"#b2b2b2","stroke":"black"},"data":{"name":"solar_current"},"resolve":{"axis":{"x":"independent","y":"independent"}},"layer":[
{"mark":{"type":"rect","width":14.6,"height":13.7},"encoding":{
"x":{"field":"x","type":"quantitative","scale":{"type":"log","domain":[0.000316,3162],"nice":false},"axis":{"title":"Current Power (kW/m²)","titleX":140,"titlePadding":10,"values":[0.001,0.01,0.1,1,10,100,1000],"labelExpr":"datum.value==1?'1.0':''+datum.value","tickSize":-4,"labelPadding":10,"zindex":1}},
"y":{"field":"y","type":"quantitative","scale":{"domain":[8.33,358.33],"nice":false,"zero":false},"axis":{"title":"Solar Power (W/m²)","titleX":-41,"titleY":148.5,"values":[50,100,150,200,250,300,350],"tickSize":-4,"labelPadding":8,"zindex":1}},
"color":{"field":"n","type":"quantitative","legend":null,"scale":{"type":"log","base":2,"domain":[1,3570],"clamp":true}}}},
{"mark":{"type":"rect","opacity":0,"width":1,"height":1},"encoding":{
"x":{"field":"x","type":"quantitative","axis":{"orient":"top","title":null,"labels":false,"values":[0.001,0.01,0.1,1,10,100,1000],"tickSize":-4,"zindex":1}},
"y":{"field":"y","type":"quantitative","axis":{"orient":"right","title":null,"labels":false,"values":[50,100,150,200,250,300,350],"tickSize":-4,"zindex":1}}}}
]},
{"width":15,"height":282,"view":{"stroke":null},"data":{"name":"levels"},"resolve":{"axis":{"y":"independent"}},"layer":[
{"mark":{"type":"rect","clip":true},"encoding":{
"x":{"datum":0,"type":"quantitative","scale":{"domain":[0,1],"nice":false},"axis":null},"x2":{"datum":1},
"y":{"field":"lo","type":"quantitative","scale":{"type":"log","base":2,"domain":[0.93,3570],"nice":false},"axis":{"title":null,"values":[1,4,16,64,256,1024],"format":"d","tickSize":-3,"labelPadding":6,"domain":false,"zindex":1}},"y2":{"field":"hi"},
"color":{"field":"lo","type":"quantitative","legend":null,"scale":{"type":"log","base":2,"domain":[1,3570],"clamp":true}}}},
{"mark":{"type":"rect","fill":null,"stroke":"black","strokeWidth":1},"encoding":{
"x":{"datum":0,"type":"quantitative"},"x2":{"datum":1},
"y":{"datum":0.93,"type":"quantitative","axis":{"orient":"right","title":null,"labels":false,"domain":false,"values":[1,4,16,64,256,1024],"tickSize":-3,"zindex":1}},"y2":{"datum":3570}}}
]},
{"width":301,"height":282,"view":{"fill":"#b2b2b2","stroke":"black"},"data":{"name":"current_wind"},"resolve":{"axis":{"x":"independent","y":"independent"}},"layer":[
{"mark":{"type":"rect","width":14.6,"height":13.7},"encoding":{
"x":{"field":"x","type":"quantitative","scale":{"type":"log","domain":[0.5623,1778],"nice":false},"axis":{"title":"Wind Power (W/m²)","titleX":140,"titlePadding":10,"values":[1,3.16,10,31.6,100,316,1000],"labelExpr":"datum.value==1?'1.0':''+datum.value","tickSize":-4,"labelPadding":10,"zindex":1}},
"y":{"field":"y","type":"quantitative","scale":{"type":"log","domain":[0.000316,3162],"nice":false},"axis":{"title":"Current Power (kW/m²)","titleX":-53,"titleY":150.5,"values":[0.001,0.01,0.1,1,10,100,1000],"labelExpr":"datum.value==1?'1.0':''+datum.value","tickSize":-4,"labelPadding":8,"zindex":1}},
"color":{"field":"n","type":"quantitative","legend":null,"scale":{"type":"log","base":2,"domain":[1,3210],"clamp":true}}}},
{"mark":{"type":"rect","opacity":0,"width":1,"height":1},"encoding":{
"x":{"field":"x","type":"quantitative","axis":{"orient":"top","title":null,"labels":false,"values":[1,3.16,10,31.6,100,316,1000],"tickSize":-4,"zindex":1}},
"y":{"field":"y","type":"quantitative","axis":{"orient":"right","title":null,"labels":false,"values":[0.001,0.01,0.1,1,10,100,1000],"tickSize":-4,"zindex":1}}}}
]},
{"width":84.5,"height":282,"view":{"stroke":null},"data":{"name":"levels"},"resolve":{"axis":{"y":"independent"}},"layer":[
{"mark":{"type":"rect","clip":true},"encoding":{
"x":{"datum":0,"type":"quantitative","scale":{"domain":[0,5.633],"nice":false},"axis":null},"x2":{"datum":1},
"y":{"field":"lo","type":"quantitative","scale":{"type":"log","base":2,"domain":[0.93,3210],"nice":false},"axis":{"title":null,"values":[1,4,16,64,256,1024],"format":"d","tickSize":-3,"labelPadding":6,"domain":false,"zindex":1}},"y2":{"field":"hi"},
"color":{"field":"lo","type":"quantitative","legend":null,"scale":{"type":"log","base":2,"domain":[1,3210],"clamp":true}}}},
{"mark":{"type":"rect","fill":null,"stroke":"black","strokeWidth":1},"encoding":{
"x":{"datum":0,"type":"quantitative"},"x2":{"datum":1},
"y":{"datum":0.93,"type":"quantitative","axis":{"orient":"right","offset":-69.5,"title":null,"labels":false,"domain":false,"values":[1,4,16,64,256,1024],"tickSize":-3,"zindex":1}},"y2":{"datum":3210}}}
]},
{"width":301,"height":282,"view":{"fill":"#b2b2b2","stroke":"black"},"data":{"name":"wave_wind"},"resolve":{"axis":{"x":"independent","y":"independent"}},"layer":[
{"mark":{"type":"rect","width":14.6,"height":13.7},"encoding":{
"x":{"field":"x","type":"quantitative","scale":{"type":"log","domain":[0.5623,1778],"nice":false},"axis":{"title":"Wind Power (W/m²)","titleX":141.5,"titlePadding":10,"values":[1,3.16,10,31.6,100,316,1000],"labelExpr":"datum.value==1?'1.0':''+datum.value","tickSize":-4,"labelPadding":10,"zindex":1}},
"y":{"field":"y","type":"quantitative","scale":{"type":"log","domain":[0.000316,3162],"nice":false},"axis":{"title":"Wave Power (kW/m","titleX":-52,"values":[0.001,0.01,0.1,1,10,100,1000],"labelExpr":"datum.value==1?'1.0':''+datum.value","tickSize":-4,"labelPadding":8,"zindex":1}},
"color":{"field":"n","type":"quantitative","legend":null,"scale":{"type":"log","base":2,"domain":[1,7000],"clamp":true}}}},
{"mark":{"type":"rect","opacity":0,"width":1,"height":1},"encoding":{
"x":{"field":"x","type":"quantitative","axis":{"orient":"top","title":null,"labels":false,"values":[1,3.16,10,31.6,100,316,1000],"tickSize":-4,"zindex":1}},
"y":{"field":"y","type":"quantitative","axis":{"orient":"right","title":null,"labels":false,"values":[0.001,0.01,0.1,1,10,100,1000],"tickSize":-4,"zindex":1}}}}
]},
{"width":84.5,"height":282,"view":{"stroke":null},"data":{"name":"levels"},"resolve":{"axis":{"y":"independent"}},"layer":[
{"mark":{"type":"rect","clip":true},"encoding":{
"x":{"datum":0,"type":"quantitative","scale":{"domain":[0,5.633],"nice":false},"axis":null},"x2":{"datum":1},
"y":{"field":"lo","type":"quantitative","scale":{"type":"log","base":2,"domain":[0.93,7000],"nice":false},"axis":{"title":null,"values":[1,4,16,64,256,1024,4096],"format":"d","tickSize":-3,"labelPadding":6,"domain":false,"zindex":1}},"y2":{"field":"hi"},
"color":{"field":"lo","type":"quantitative","legend":null,"scale":{"type":"log","base":2,"domain":[1,7000],"clamp":true}}}},
{"mark":{"type":"rect","fill":null,"stroke":"black","strokeWidth":1},"encoding":{
"x":{"datum":0,"type":"quantitative"},"x2":{"datum":1},
"y":{"datum":0.93,"type":"quantitative","axis":{"orient":"right","offset":-69.5,"title":null,"labels":false,"domain":false,"values":[1,4,16,64,256,1024,4096],"tickSize":-3,"zindex":1}},"y2":{"datum":7000}}}
]},
{"width":301,"height":282,"view":{"fill":"#b2b2b2","stroke":"black"},"data":{"name":"wave_current"},"resolve":{"axis":{"x":"independent","y":"independent"}},"layer":[
{"mark":{"type":"rect","width":14.6,"height":13.7},"encoding":{
"x":{"field":"x","type":"quantitative","scale":{"type":"log","domain":[0.000316,3162],"nice":false},"axis":{"title":"Current Power (kW/m²)","titleX":140,"titlePadding":10,"values":[0.001,0.01,0.1,1,10,100,1000],"labelExpr":"datum.value==1?'1.0':''+datum.value","tickSize":-4,"labelPadding":10,"zindex":1}},
"y":{"field":"y","type":"quantitative","scale":{"type":"log","domain":[0.000316,3162],"nice":false},"axis":{"title":"Wave power (kW/m","titleX":-53,"values":[0.001,0.01,0.1,1,10,100,1000],"labelExpr":"datum.value==1?'1.0':''+datum.value","tickSize":-4,"labelPadding":8,"zindex":1}},
"color":{"field":"n","type":"quantitative","legend":null,"scale":{"type":"log","base":2,"domain":[1,5700],"clamp":true}}}},
{"mark":{"type":"rect","opacity":0,"width":1,"height":1},"encoding":{
"x":{"field":"x","type":"quantitative","axis":{"orient":"top","title":null,"labels":false,"values":[0.001,0.01,0.1,1,10,100,1000],"tickSize":-4,"zindex":1}},
"y":{"field":"y","type":"quantitative","axis":{"orient":"right","title":null,"labels":false,"values":[0.001,0.01,0.1,1,10,100,1000],"tickSize":-4,"zindex":1}}}}
]},
{"width":15,"height":282,"view":{"stroke":null},"data":{"name":"levels"},"resolve":{"axis":{"y":"independent"}},"layer":[
{"mark":{"type":"rect","clip":true},"encoding":{
"x":{"datum":0,"type":"quantitative","scale":{"domain":[0,1],"nice":false},"axis":null},"x2":{"datum":1},
"y":{"field":"lo","type":"quantitative","scale":{"type":"log","base":2,"domain":[0.93,5700],"nice":false},"axis":{"title":null,"values":[1,4,16,64,256,1024,4096],"format":"d","tickSize":-3,"labelPadding":6,"domain":false,"zindex":1}},"y2":{"field":"hi"},
"color":{"field":"lo","type":"quantitative","legend":null,"scale":{"type":"log","base":2,"domain":[1,5700],"clamp":true}}}},
{"mark":{"type":"rect","fill":null,"stroke":"black","strokeWidth":1},"encoding":{
"x":{"datum":0,"type":"quantitative"},"x2":{"datum":1},
"y":{"datum":0.93,"type":"quantitative","axis":{"orient":"right","title":null,"labels":false,"domain":false,"values":[1,4,16,64,256,1024,4096],"tickSize":-3,"zindex":1}},"y2":{"datum":5700}}}
]}
]
}
